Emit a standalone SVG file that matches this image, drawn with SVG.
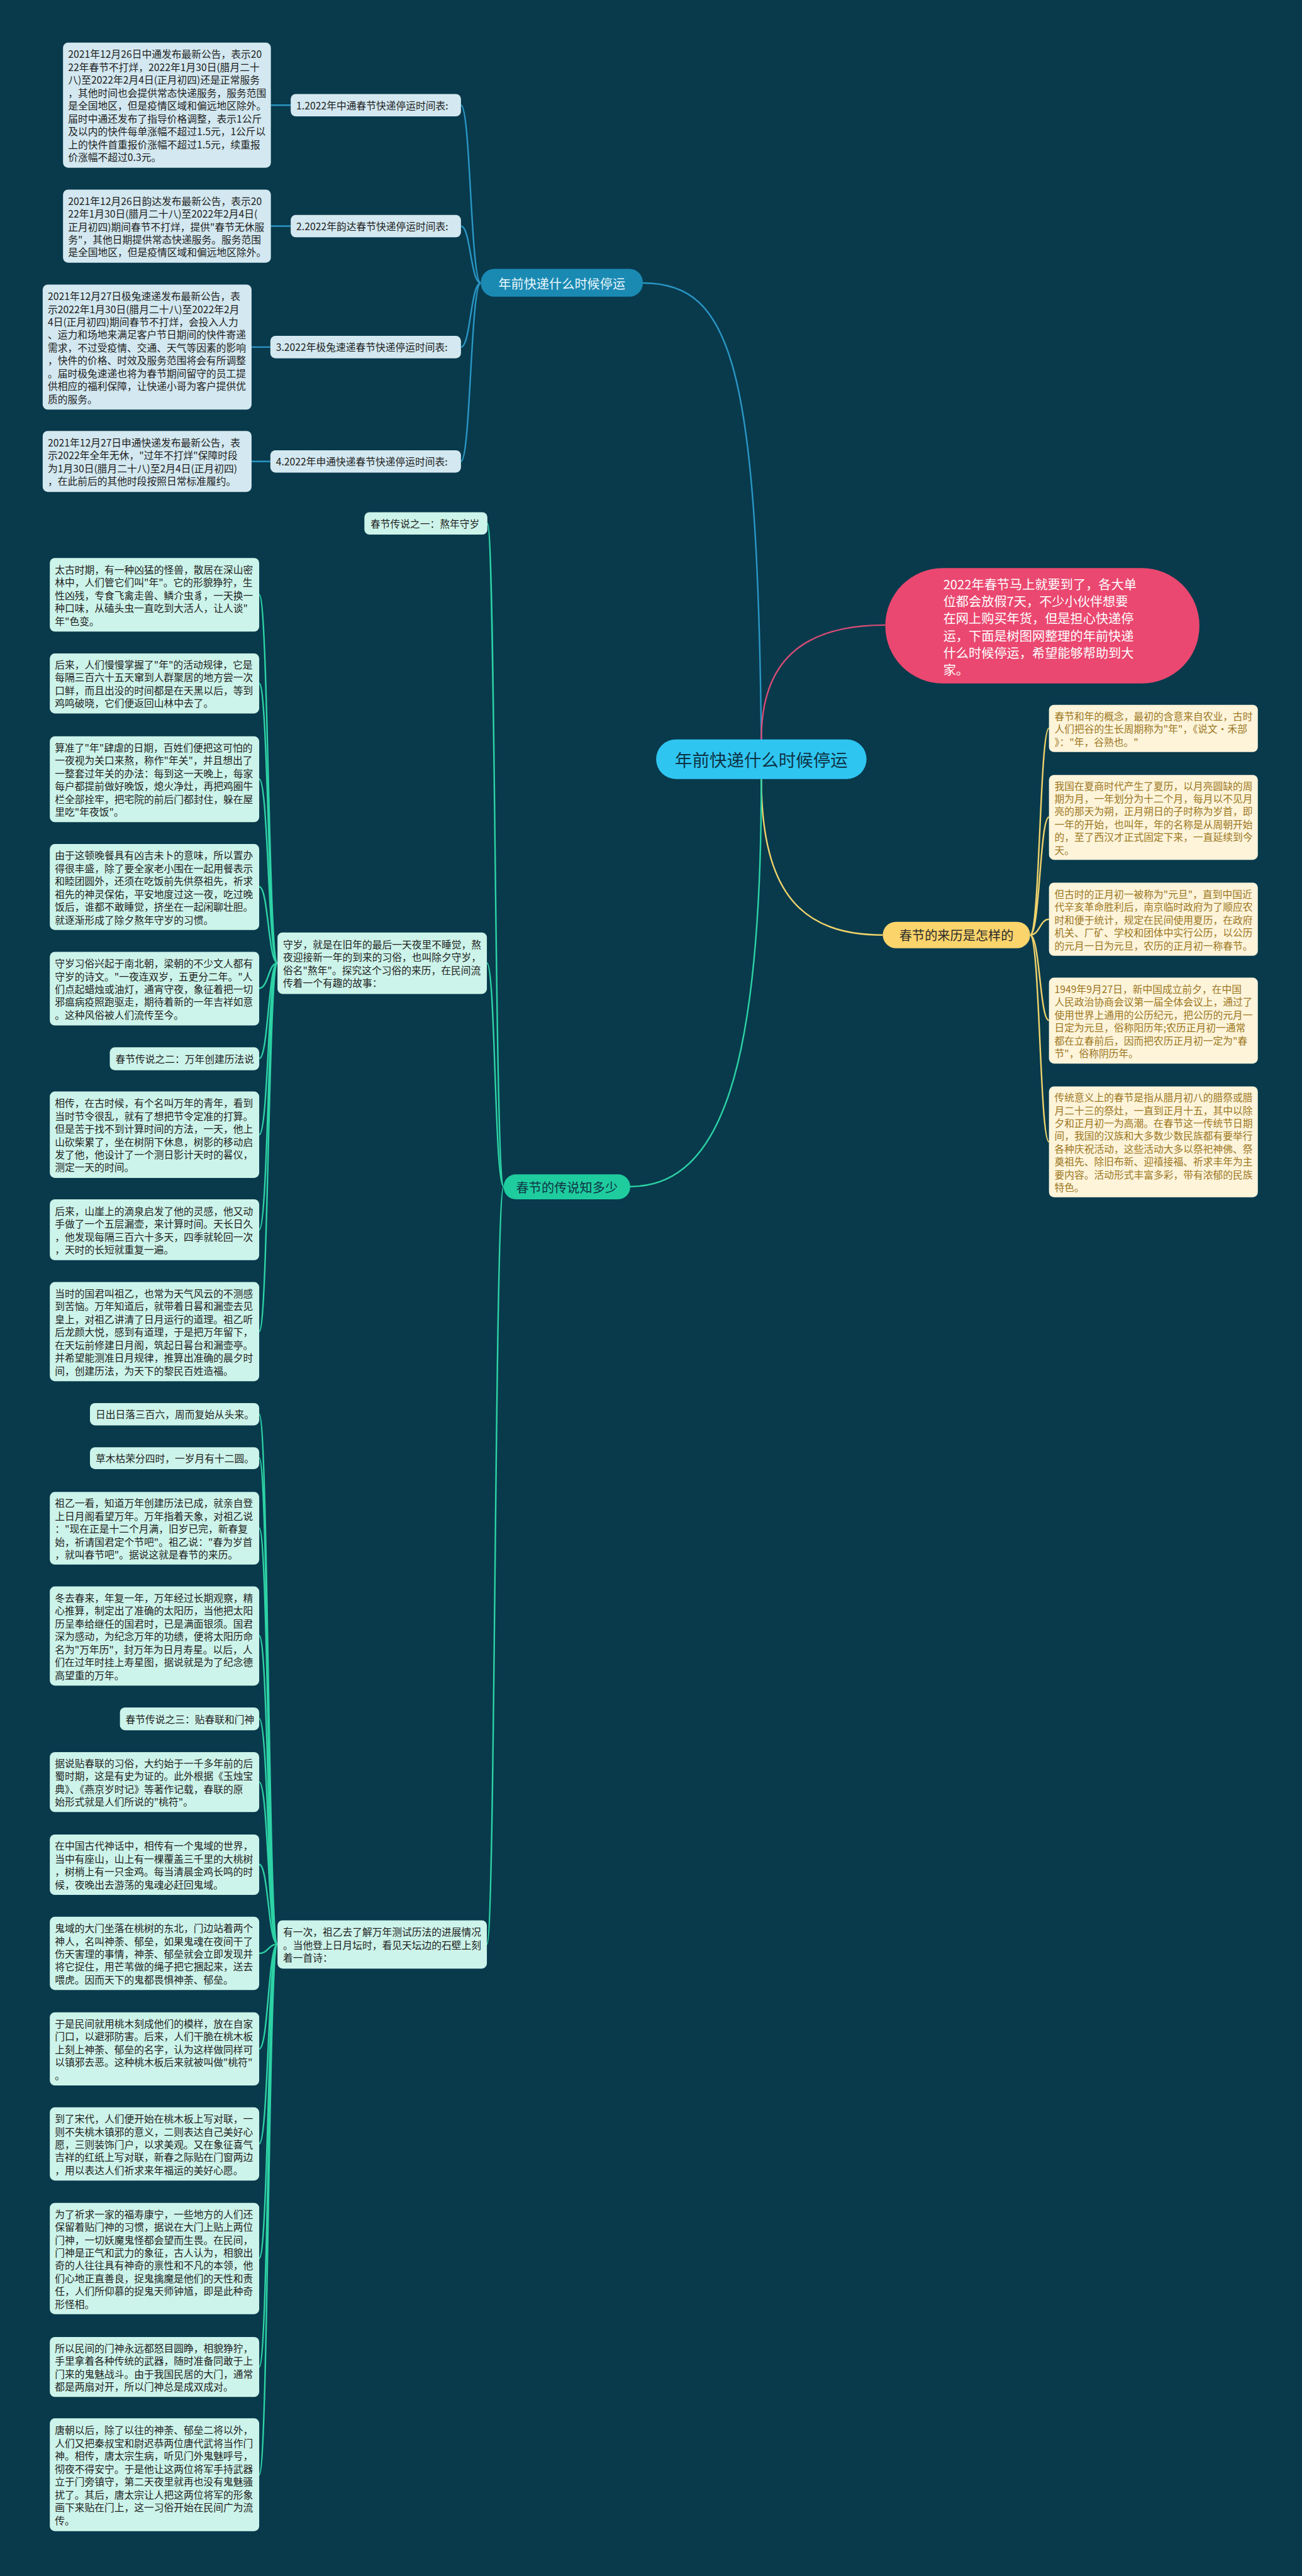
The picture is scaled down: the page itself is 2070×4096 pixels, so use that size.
<svg xmlns="http://www.w3.org/2000/svg" width="2070" height="4096" viewBox="0 0 2070 4096">
<style>
.t{font-family:"Noto Sans CJK SC","Liberation Sans",sans-serif;font-size:19.5px;fill:#1e1e1e;dominant-baseline:central}
.ty{fill:#9c771f}
.bb{fill:#d3e8f0}
.gb{fill:#cdf4ea}
.yb{fill:#fdf4da}
.c{fill:none;stroke-width:3}
.cb{stroke:#2a96c4}
.cg{stroke:#2dd2a5}
.cy{stroke:#efd26b}
</style>
<rect width="2070" height="4096" fill="#083a4c"/>
<g transform="scale(0.808)">
<g id="connectors">
<path class="c cb" stroke-width="4" d="M1265 557 C1440 557 1490 720 1498 1455"/>
<path class="c" stroke="#d94c76" stroke-width="4" d="M1498 1455 C1498 1300 1580 1230 1742 1230"/>
<path class="c cy" stroke-width="4" d="M1498 1533 C1498 1760 1580 1840 1737 1840"/>
<path class="c cg" stroke-width="4" d="M1498 1533 C1498 2100 1420 2335 1240 2335"/>
<path class="c cb" d="M533 207 L572 207 M533 445 L572 445 M495 683 L532 683 M495 908 L532 908"/>
<path class="c cb" d="M907 207 C926 207 926 557 946 557 M907 445 C926 445 926 557 946 557 M907 683 C926 683 926 557 946 557 M907 908 C926 908 926 557 946 557"/>
<path class="c cy" d="M2027 1840 C2046 1840 2046 1433 2064 1433 M2027 1840 C2046 1840 2046 1608 2064 1608 M2027 1840 C2046 1840 2046 1809 2064 1809 M2027 1840 C2046 1840 2046 2008 2064 2008 M2027 1840 C2046 1840 2046 2247 2064 2247"/>
<path class="c cg" d="M991 2335 C973 2335 975 1030 959 1030 M991 2335 C973 2335 975 1895 958 1895 M991 2335 C973 2335 975 3826 958 3826"/>
<path class="c cg" d="M546 1895 C528 1895 528 1170 510 1170 M546 1895 C528 1895 528 1345 510 1345 M546 1895 C528 1895 528 1533 510 1533 M546 1895 C528 1895 528 1745 510 1745 M546 1895 C528 1895 528 1945 510 1945 M546 1895 C528 1895 528 2083 510 2083 M546 1895 C528 1895 528 2233 510 2233 M546 1895 C528 1895 528 2420 510 2420 M546 1895 C528 1895 528 2620 510 2620"/>
<path class="c cg" d="M546 3826 C528 3826 528 2783 510 2783 M546 3826 C528 3826 528 2869 510 2869 M546 3826 C528 3826 528 3007 510 3007 M546 3826 C528 3826 528 3219 510 3219 M546 3826 C528 3826 528 3382 510 3382 M546 3826 C528 3826 528 3507 510 3507 M546 3826 C528 3826 528 3669 510 3669 M546 3826 C528 3826 528 3844 510 3844 M546 3826 C528 3826 528 4032 510 4032 M546 3826 C528 3826 528 4219 510 4219 M546 3826 C528 3826 528 4444 510 4444 M546 3826 C528 3826 528 4658 510 4658 M546 3826 C528 3826 528 4870 510 4870"/>
</g>

<g id="center">
<rect x="1291" y="1455" width="414" height="78" rx="39" fill="#2fc5f1"/>
<text class="t" x="1498" y="1494" text-anchor="middle" style="font-size:34px;fill:#0d3445">年前快递什么时候停运</text>
</g>
<g id="intro">
<rect x="1742" y="1118" width="618" height="227" rx="113" fill="#ea4870"/>
<text class="t" style="font-size:25px;fill:#ffffff"><tspan x="1856" y="1148">2022年春节马上就要到了，各大单</tspan><tspan x="1856" dy="33.8">位都会放假7天，不少小伙伴想要</tspan><tspan x="1856" dy="33.8">在网上购买年货，但是担心快递停</tspan><tspan x="1856" dy="33.8">运，下面是树图网整理的年前快递</tspan><tspan x="1856" dy="33.8">什么时候停运，希望能够帮助到大</tspan><tspan x="1856" dy="33.8">家。</tspan></text>
</g>

<g id="branch-stop">
<rect x="946" y="529" width="319" height="55" rx="27" fill="#1a8ab3"/>
<text class="t" x="1105.5" y="557" text-anchor="middle" style="font-size:25px;fill:#e9f7fc">年前快递什么时候停运</text>
</g>
<g id="branch-origin">
<rect x="1737" y="1814" width="290" height="52" rx="26" fill="#fbd46b"/>
<text class="t" x="1882" y="1840" text-anchor="middle" style="font-size:25px;fill:#2a2a2a">春节的来历是怎样的</text>
</g>
<g id="branch-legend">
<rect x="991" y="2311" width="249" height="49" rx="24" fill="#1fcc9e"/>
<text class="t" x="1115.5" y="2335.5" text-anchor="middle" style="font-size:25px;fill:#0d3445">春节的传说知多少</text>
</g>

<g id="zto-label"><rect class="bb" x="572" y="185" width="335" height="44" rx="10"/><text class="t" x="583" y="207">1.2022年中通春节快递停运时间表:</text></g>
<g id="yunda-label"><rect class="bb" x="572" y="423" width="335" height="44" rx="10"/><text class="t" x="583" y="445">2.2022年韵达春节快递停运时间表:</text></g>
<g id="jitu-label"><rect class="bb" x="532" y="661" width="375" height="44" rx="10"/><text class="t" x="543" y="683">3.2022年极兔速递春节快递停运时间表:</text></g>
<g id="sto-label"><rect class="bb" x="532" y="886" width="375" height="44" rx="10"/><text class="t" x="543" y="908">4.2022年申通快递春节快递停运时间表:</text></g>

<g id="zto-text"><rect class="bb" x="124" y="84" width="409" height="246" rx="10"/><text class="t"><tspan x="134" y="105.8">2021年12月26日中通发布最新公告，表示20</tspan><tspan x="134" dy="25.3">22年春节不打烊，2022年1月30日(腊月二十</tspan><tspan x="134" dy="25.3">八)至2022年2月4日(正月初四)还是正常服务</tspan><tspan x="134" dy="25.3">，其他时间也会提供常态快递服务，服务范围</tspan><tspan x="134" dy="25.3">是全国地区，但是疫情区域和偏远地区除外。</tspan><tspan x="134" dy="25.3">届时中通还发布了指导价格调整，表示1公斤</tspan><tspan x="134" dy="25.3">及以内的快件每单涨幅不超过1.5元，1公斤以</tspan><tspan x="134" dy="25.3">上的快件首重报价涨幅不超过1.5元，续重报</tspan><tspan x="134" dy="25.3">价涨幅不超过0.3元。</tspan></text></g>
<g id="yunda-text"><rect class="bb" x="124" y="373" width="409" height="144" rx="10"/><text class="t"><tspan x="134" y="394.4">2021年12月26日韵达发布最新公告，表示20</tspan><tspan x="134" dy="25.3">22年1月30日(腊月二十八)至2022年2月4日(</tspan><tspan x="134" dy="25.3">正月初四)期间春节不打烊，提供"春节无休服</tspan><tspan x="134" dy="25.3">务"，其他日期提供常态快递服务。服务范围</tspan><tspan x="134" dy="25.3">是全国地区，但是疫情区域和偏远地区除外。</tspan></text></g>
<g id="jitu-text"><rect class="bb" x="84" y="560" width="411" height="246" rx="10"/><text class="t"><tspan x="94" y="581.8">2021年12月27日极兔速递发布最新公告，表</tspan><tspan x="94" dy="25.3">示2022年1月30日(腊月二十八)至2022年2月</tspan><tspan x="94" dy="25.3">4日(正月初四)期间春节不打烊，会投入人力</tspan><tspan x="94" dy="25.3">、运力和场地来满足客户节日期间的快件寄递</tspan><tspan x="94" dy="25.3">需求，不过受疫情、交通、天气等因素的影响</tspan><tspan x="94" dy="25.3">，快件的价格、时效及服务范围将会有所调整</tspan><tspan x="94" dy="25.3">。届时极兔速递也将为春节期间留守的员工提</tspan><tspan x="94" dy="25.3">供相应的福利保障，让快递小哥为客户提供优</tspan><tspan x="94" dy="25.3">质的服务。</tspan></text></g>
<g id="sto-text"><rect class="bb" x="84" y="848" width="411" height="120" rx="10"/><text class="t"><tspan x="94" y="870">2021年12月27日申通快递发布最新公告，表</tspan><tspan x="94" dy="25.3">示2022年全年无休，"过年不打烊"保障时段</tspan><tspan x="94" dy="25.3">为1月30日(腊月二十八)至2月4日(正月初四)</tspan><tspan x="94" dy="25.3">，在此前后的其他时段按照日常标准履约。</tspan></text></g>

<g id="origin-1"><rect class="yb" x="2064" y="1387" width="411" height="93" rx="10"/><text class="t ty"><tspan x="2075" y="1408.2">春节和年的概念，最初的含意来自农业，古时</tspan><tspan x="2075" dy="25.3">人们把谷的生长周期称为"年"，《说文·禾部</tspan><tspan x="2075" dy="25.3">》："年，谷熟也。"</tspan></text></g>
<g id="origin-2"><rect class="yb" x="2064" y="1525" width="411" height="167" rx="10"/><text class="t ty"><tspan x="2075" y="1545.3">我国在夏商时代产生了夏历，以月亮圆缺的周</tspan><tspan x="2075" dy="25.3">期为月，一年划分为十二个月，每月以不见月</tspan><tspan x="2075" dy="25.3">亮的那天为朔，正月朔日的子时称为岁首，即</tspan><tspan x="2075" dy="25.3">一年的开始，也叫年，年的名称是从周朝开始</tspan><tspan x="2075" dy="25.3">的，至了西汉才正式固定下来，一直延续到今</tspan><tspan x="2075" dy="25.3">天。</tspan></text></g>
<g id="origin-3"><rect class="yb" x="2064" y="1737" width="411" height="144" rx="10"/><text class="t ty"><tspan x="2075" y="1758.4">但古时的正月初一被称为"元旦"，直到中国近</tspan><tspan x="2075" dy="25.3">代辛亥革命胜利后，南京临时政府为了顺应农</tspan><tspan x="2075" dy="25.3">时和便于统计，规定在民间使用夏历，在政府</tspan><tspan x="2075" dy="25.3">机关、厂矿、学校和团体中实行公历，以公历</tspan><tspan x="2075" dy="25.3">的元月一日为元旦，农历的正月初一称春节。</tspan></text></g>
<g id="origin-4"><rect class="yb" x="2064" y="1924" width="411" height="169" rx="10"/><text class="t ty"><tspan x="2075" y="1945.3">1949年9月27日，新中国成立前夕，在中国</tspan><tspan x="2075" dy="25.3">人民政治协商会议第一届全体会议上，通过了</tspan><tspan x="2075" dy="25.3">使用世界上通用的公历纪元，把公历的元月一</tspan><tspan x="2075" dy="25.3">日定为元旦，俗称阳历年;农历正月初一通常</tspan><tspan x="2075" dy="25.3">都在立春前后，因而把农历正月初一定为"春</tspan><tspan x="2075" dy="25.3">节"，俗称阴历年。</tspan></text></g>
<g id="origin-5"><rect class="yb" x="2064" y="2138" width="411" height="218" rx="10"/><text class="t ty"><tspan x="2075" y="2158.5">传统意义上的春节是指从腊月初八的腊祭或腊</tspan><tspan x="2075" dy="25.3">月二十三的祭灶，一直到正月十五，其中以除</tspan><tspan x="2075" dy="25.3">夕和正月初一为高潮。在春节这一传统节日期</tspan><tspan x="2075" dy="25.3">间，我国的汉族和大多数少数民族都有要举行</tspan><tspan x="2075" dy="25.3">各种庆祝活动，这些活动大多以祭祀神佛、祭</tspan><tspan x="2075" dy="25.3">奠祖先、除旧布新、迎禧接福、祈求丰年为主</tspan><tspan x="2075" dy="25.3">要内容。活动形式丰富多彩，带有浓郁的民族</tspan><tspan x="2075" dy="25.3">特色。</tspan></text></g>

<g id="legend-1-title"><rect class="gb" x="717" y="1008" width="242" height="44" rx="10"/><text class="t" x="729" y="1030">春节传说之一：熬年守岁</text></g>
<g id="legend-1-intro"><rect class="gb" x="546" y="1835" width="412" height="121" rx="10"/><text class="t"><tspan x="557" y="1857.6">守岁，就是在旧年的最后一天夜里不睡觉，熬</tspan><tspan x="557" dy="25.3">夜迎接新一年的到来的习俗，也叫除夕守岁，</tspan><tspan x="557" dy="25.3">俗名"熬年"。探究这个习俗的来历，在民间流</tspan><tspan x="557" dy="25.3">传着一个有趣的故事：</tspan></text></g>
<g id="legend-2-poem-intro"><rect class="gb" x="546" y="3779" width="412" height="95" rx="10"/><text class="t"><tspan x="557" y="3801.2">有一次，祖乙去了解万年测试历法的进展情况</tspan><tspan x="557" dy="25.3">。当他登上日月坛时，看见天坛边的石壁上刻</tspan><tspan x="557" dy="25.3">着一首诗：</tspan></text></g>

<g id="a1"><rect class="gb" x="98" y="1098" width="412" height="145" rx="10"/><text class="t"><tspan x="108" y="1119.9">太古时期，有一种凶猛的怪兽，散居在深山密</tspan><tspan x="108" dy="25.3">林中，人们管它们叫"年"。它的形貌狰狞，生</tspan><tspan x="108" dy="25.3">性凶残，专食飞禽走兽、鳞介虫豸，一天换一</tspan><tspan x="108" dy="25.3">种口味，从磕头虫一直吃到大活人，让人谈"</tspan><tspan x="108" dy="25.3">年"色变。</tspan></text></g>
<g id="a2"><rect class="gb" x="98" y="1286" width="412" height="118" rx="10"/><text class="t"><tspan x="108" y="1307">后来，人们慢慢掌握了"年"的活动规律，它是</tspan><tspan x="108" dy="25.3">每隔三百六十五天窜到人群聚居的地方尝一次</tspan><tspan x="108" dy="25.3">口鲜，而且出没的时间都是在天黑以后，等到</tspan><tspan x="108" dy="25.3">鸡鸣破晓，它们便返回山林中去了。</tspan></text></g>
<g id="a3"><rect class="gb" x="98" y="1449" width="412" height="169" rx="10"/><text class="t"><tspan x="108" y="1470.3">算准了"年"肆虐的日期，百姓们便把这可怕的</tspan><tspan x="108" dy="25.3">一夜视为关口来熬，称作"年关"，并且想出了</tspan><tspan x="108" dy="25.3">一整套过年关的办法：每到这一天晚上，每家</tspan><tspan x="108" dy="25.3">每户都提前做好晚饭，熄火净灶，再把鸡圈牛</tspan><tspan x="108" dy="25.3">栏全部拴牢，把宅院的前后门都封住，躲在屋</tspan><tspan x="108" dy="25.3">里吃"年夜饭"。</tspan></text></g>
<g id="a4"><rect class="gb" x="98" y="1661" width="412" height="169" rx="10"/><text class="t"><tspan x="108" y="1682.3">由于这顿晚餐具有凶吉未卜的意味，所以置办</tspan><tspan x="108" dy="25.3">得很丰盛，除了要全家老小围在一起用餐表示</tspan><tspan x="108" dy="25.3">和睦团圆外，还须在吃饭前先供祭祖先，祈求</tspan><tspan x="108" dy="25.3">祖先的神灵保佑，平安地度过这一夜，吃过晚</tspan><tspan x="108" dy="25.3">饭后，谁都不敢睡觉，挤坐在一起闲聊壮胆。</tspan><tspan x="108" dy="25.3">就逐渐形成了除夕熬年守岁的习惯。</tspan></text></g>
<g id="a5"><rect class="gb" x="98" y="1873" width="412" height="145" rx="10"/><text class="t"><tspan x="108" y="1894.9">守岁习俗兴起于南北朝，梁朝的不少文人都有</tspan><tspan x="108" dy="25.3">守岁的诗文。"一夜连双岁，五更分二年。"人</tspan><tspan x="108" dy="25.3">们点起蜡烛或油灯，通宵守夜，象征着把一切</tspan><tspan x="108" dy="25.3">邪瘟病疫照跑驱走，期待着新的一年吉祥如意</tspan><tspan x="108" dy="25.3">。这种风俗被人们流传至今。</tspan></text></g>
<g id="a6"><rect class="gb" x="216" y="2061" width="294" height="45" rx="10"/><text class="t" x="227" y="2083.5">春节传说之二：万年创建历法说</text></g>
<g id="a7"><rect class="gb" x="98" y="2148" width="412" height="170" rx="10"/><text class="t"><tspan x="108" y="2169.8">相传，在古时候，有个名叫万年的青年，看到</tspan><tspan x="108" dy="25.3">当时节令很乱，就有了想把节令定准的打算。</tspan><tspan x="108" dy="25.3">但是苦于找不到计算时间的方法，一天，他上</tspan><tspan x="108" dy="25.3">山砍柴累了，坐在树阴下休息，树影的移动启</tspan><tspan x="108" dy="25.3">发了他，他设计了一个测日影计天时的晷仪，</tspan><tspan x="108" dy="25.3">测定一天的时间。</tspan></text></g>
<g id="a8"><rect class="gb" x="98" y="2360" width="412" height="120" rx="10"/><text class="t"><tspan x="108" y="2382">后来，山崖上的滴泉启发了他的灵感，他又动</tspan><tspan x="108" dy="25.3">手做了一个五层漏壶，来计算时间。天长日久</tspan><tspan x="108" dy="25.3">，他发现每隔三百六十多天，四季就轮回一次</tspan><tspan x="108" dy="25.3">，天时的长短就重复一遍。</tspan></text></g>
<g id="a9"><rect class="gb" x="98" y="2523" width="412" height="195" rx="10"/><text class="t"><tspan x="108" y="2544.6">当时的国君叫祖乙，也常为天气风云的不测感</tspan><tspan x="108" dy="25.3">到苦恼。万年知道后，就带着日晷和漏壶去见</tspan><tspan x="108" dy="25.3">皇上，对祖乙讲清了日月运行的道理。祖乙听</tspan><tspan x="108" dy="25.3">后龙颜大悦，感到有道理，于是把万年留下，</tspan><tspan x="108" dy="25.3">在天坛前修建日月阁，筑起日晷台和漏壶亭。</tspan><tspan x="108" dy="25.3">并希望能测准日月规律，推算出准确的晨夕时</tspan><tspan x="108" dy="25.3">间，创建历法，为天下的黎民百姓造福。</tspan></text></g>

<g id="b1"><rect class="gb" x="177" y="2761" width="333" height="44" rx="10"/><text class="t" x="188" y="2783">日出日落三百六，周而复始从头来。</text></g>
<g id="b2"><rect class="gb" x="177" y="2848" width="333" height="43" rx="10"/><text class="t" x="188" y="2869.5">草木枯荣分四时，一岁月有十二圆。</text></g>
<g id="b3"><rect class="gb" x="98" y="2936" width="412" height="143" rx="10"/><text class="t"><tspan x="108" y="2956.9">祖乙一看，知道万年创建历法已成，就亲自登</tspan><tspan x="108" dy="25.3">上日月阁看望万年。万年指着天象，对祖乙说</tspan><tspan x="108" dy="25.3">："现在正是十二个月满，旧岁已完，新春复</tspan><tspan x="108" dy="25.3">始，祈请国君定个节吧"。祖乙说："春为岁首</tspan><tspan x="108" dy="25.3">，就叫春节吧"。据说这就是春节的来历。</tspan></text></g>
<g id="b4"><rect class="gb" x="98" y="3122" width="412" height="195" rx="10"/><text class="t"><tspan x="108" y="3143.6">冬去春来，年复一年，万年经过长期观察，精</tspan><tspan x="108" dy="25.3">心推算，制定出了准确的太阳历，当他把太阳</tspan><tspan x="108" dy="25.3">历呈奉给继任的国君时，已是满面银须。国君</tspan><tspan x="108" dy="25.3">深为感动，为纪念万年的功绩，便将太阳历命</tspan><tspan x="108" dy="25.3">名为"万年历"，封万年为日月寿星。以后，人</tspan><tspan x="108" dy="25.3">们在过年时挂上寿星图，据说就是为了纪念德</tspan><tspan x="108" dy="25.3">高望重的万年。</tspan></text></g>
<g id="b5"><rect class="gb" x="236" y="3360" width="274" height="45" rx="10"/><text class="t" x="247" y="3382.5">春节传说之三：贴春联和门神</text></g>
<g id="b6"><rect class="gb" x="98" y="3448" width="412" height="118" rx="10"/><text class="t"><tspan x="108" y="3469">据说贴春联的习俗，大约始于一千多年前的后</tspan><tspan x="108" dy="25.3">蜀时期，这是有史为证的。此外根据《玉烛宝</tspan><tspan x="108" dy="25.3">典》、《燕京岁时记》等著作记载，春联的原</tspan><tspan x="108" dy="25.3">始形式就是人们所说的"桃符"。</tspan></text></g>
<g id="b7"><rect class="gb" x="98" y="3610" width="412" height="119" rx="10"/><text class="t"><tspan x="108" y="3631.5">在中国古代神话中，相传有一个鬼域的世界，</tspan><tspan x="108" dy="25.3">当中有座山，山上有一棵覆盖三千里的大桃树</tspan><tspan x="108" dy="25.3">，树梢上有一只金鸡。每当清晨金鸡长鸣的时</tspan><tspan x="108" dy="25.3">候，夜晚出去游荡的鬼魂必赶回鬼域。</tspan></text></g>
<g id="b8"><rect class="gb" x="98" y="3772" width="412" height="144" rx="10"/><text class="t"><tspan x="108" y="3793.4">鬼域的大门坐落在桃树的东北，门边站着两个</tspan><tspan x="108" dy="25.3">神人，名叫神荼、郁垒，如果鬼魂在夜间干了</tspan><tspan x="108" dy="25.3">伤天害理的事情，神荼、郁垒就会立即发现并</tspan><tspan x="108" dy="25.3">将它捉住，用芒苇做的绳子把它捆起来，送去</tspan><tspan x="108" dy="25.3">喂虎。因而天下的鬼都畏惧神荼、郁垒。</tspan></text></g>
<g id="b9"><rect class="gb" x="98" y="3960" width="412" height="144" rx="10"/><text class="t"><tspan x="108" y="3981.4">于是民间就用桃木刻成他们的模样，放在自家</tspan><tspan x="108" dy="25.3">门口，以避邪防害。后来，人们干脆在桃木板</tspan><tspan x="108" dy="25.3">上刻上神荼、郁垒的名字，认为这样做同样可</tspan><tspan x="108" dy="25.3">以镇邪去恶。这种桃木板后来就被叫做"桃符"</tspan><tspan x="108" dy="25.3">。</tspan></text></g>
<g id="b10"><rect class="gb" x="98" y="4147" width="412" height="144" rx="10"/><text class="t"><tspan x="108" y="4168.4">到了宋代，人们便开始在桃木板上写对联，一</tspan><tspan x="108" dy="25.3">则不失桃木镇邪的意义，二则表达自己美好心</tspan><tspan x="108" dy="25.3">愿，三则装饰门户，以求美观。又在象征喜气</tspan><tspan x="108" dy="25.3">吉祥的红纸上写对联，新春之际贴在门窗两边</tspan><tspan x="108" dy="25.3">，用以表达人们祈求来年福运的美好心愿。</tspan></text></g>
<g id="b11"><rect class="gb" x="98" y="4335" width="412" height="219" rx="10"/><text class="t"><tspan x="108" y="4356">为了祈求一家的福寿康宁，一些地方的人们还</tspan><tspan x="108" dy="25.3">保留着贴门神的习惯，据说在大门上贴上两位</tspan><tspan x="108" dy="25.3">门神，一切妖魔鬼怪都会望而生畏。在民间，</tspan><tspan x="108" dy="25.3">门神是正气和武力的象征，古人认为，相貌出</tspan><tspan x="108" dy="25.3">奇的人往往具有神奇的禀性和不凡的本领，他</tspan><tspan x="108" dy="25.3">们心地正直善良，捉鬼擒魔是他们的天性和责</tspan><tspan x="108" dy="25.3">任，人们所仰慕的捉鬼天师钟馗，即是此种奇</tspan><tspan x="108" dy="25.3">形怪相。</tspan></text></g>
<g id="b12"><rect class="gb" x="98" y="4599" width="412" height="118" rx="10"/><text class="t"><tspan x="108" y="4620">所以民间的门神永远都怒目圆睁，相貌狰狞，</tspan><tspan x="108" dy="25.3">手里拿着各种传统的武器，随时准备同敢于上</tspan><tspan x="108" dy="25.3">门来的鬼魅战斗。由于我国民居的大门，通常</tspan><tspan x="108" dy="25.3">都是两扇对开，所以门神总是成双成对。</tspan></text></g>
<g id="b13"><rect class="gb" x="98" y="4759" width="412" height="222" rx="10"/><text class="t"><tspan x="108" y="4781.5">唐朝以后，除了以往的神荼、郁垒二将以外，</tspan><tspan x="108" dy="25.3">人们又把秦叔宝和尉迟恭两位唐代武将当作门</tspan><tspan x="108" dy="25.3">神。相传，唐太宗生病，听见门外鬼魅呼号，</tspan><tspan x="108" dy="25.3">彻夜不得安宁。于是他让这两位将军手持武器</tspan><tspan x="108" dy="25.3">立于门旁镇守，第二天夜里就再也没有鬼魅骚</tspan><tspan x="108" dy="25.3">扰了。其后，唐太宗让人把这两位将军的形象</tspan><tspan x="108" dy="25.3">画下来贴在门上，这一习俗开始在民间广为流</tspan><tspan x="108" dy="25.3">传。</tspan></text></g>
</g>
</svg>
